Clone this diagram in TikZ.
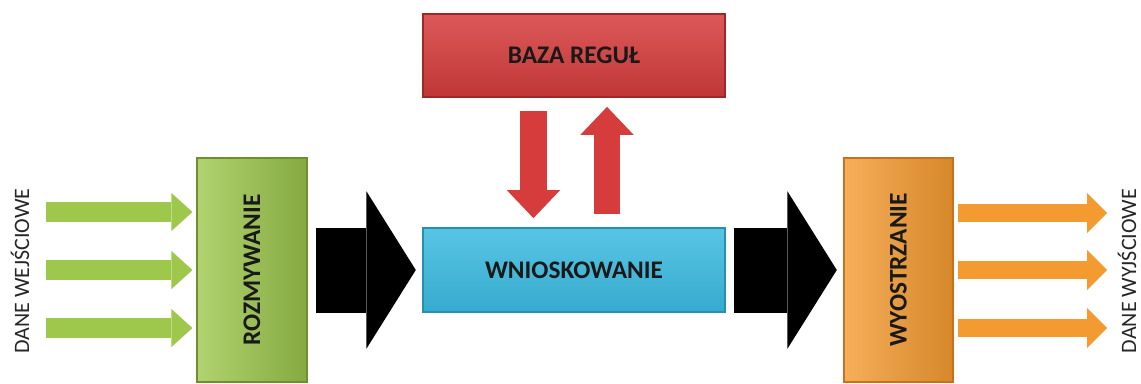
\documentclass[tikz,border=0pt]{standalone}
\usepackage{fontspec}
\setmainfont{Carlito}
\usetikzlibrary{arrows.meta}

\definecolor{rozmgreen}{HTML}{9DC84C}
\definecolor{rozmdark}{HTML}{6F8F2E}
\definecolor{bazared}{HTML}{D63C3C}
\definecolor{bazadark}{HTML}{A12727}
\definecolor{wniosblue}{HTML}{3BBAE0}
\definecolor{wniosdark}{HTML}{2590B3}
\definecolor{wyosorange}{HTML}{F39A30}
\definecolor{wyosdark}{HTML}{C8701A}

\begin{document}
\begin{tikzpicture}
        [
            x = 0.75pt, y = -0.75pt,
            box/.style = {rectangle, draw, thick, inner sep=0pt, text=black!90,
                font=\bfseries\fontsize{19}{21}\selectfont},
            boxlabel/.style = {text=black!90, font=\bfseries\fontsize{19}{21}\selectfont},
            datalabel/.style = {rotate=90, text=black!85, font=\fontsize{16.5}{18}\selectfont},
            inarrow/.style = {draw=rozmgreen, line width=15pt, shorten >=3pt,
                -{Triangle[length=15.75pt, width=28.5pt, line width=0pt]}},
            outarrow/.style = {draw=wyosorange, line width=14pt, shorten <=3.5pt,
                -{Triangle[length=15pt, width=30pt, line width=0pt]}},
            bigarrow/.style = {draw=black, line width=63.75pt, shorten <=6pt, shorten >=5pt,
                -{Triangle[length=37pt, width=118pt, line width=0pt]}},
            rulearrow/.style = {draw=bazared, line width=20pt, shorten <=10pt, shorten >=7pt,
                -{Triangle[length=21pt, width=40pt, line width=0pt]}}
        ]
        \useasboundingbox (0, 0) rectangle (1141, 383);

        \node [box, draw=bazadark, top color=bazared!85!white, bottom color=bazared!90!black,
            minimum width=226.5pt, minimum height=62.25pt] at (574, 55.5) (baza) {BAZA REGUŁ};
        \node [box, draw=wniosdark, top color=wniosblue!85!white, bottom color=wniosblue!92!black,
            minimum width=226.5pt, minimum height=63pt] at (574, 270) (wnio) {WNIOSKOWANIE};
        \node [box, draw=rozmdark, left color=rozmgreen!80!white, right color=rozmgreen!85!black,
            minimum width=82.5pt, minimum height=168pt] at (252, 270) (rozm) {};
        \node [box, draw=wyosdark, left color=wyosorange!80!white, right color=wyosorange!88!black,
            minimum width=81.75pt, minimum height=168pt] at (898.5, 270) (wyos) {};
        \node [boxlabel, rotate=90] at (rozm) (rozmtext) {ROZMYWANIE};
        \node [boxlabel, rotate=90] at (wyos) (wyostext) {WYOSTRZANIE};

        \node [datalabel] at (20, 271) (wej) {DANE WEJŚCIOWE};
        \node [datalabel] at (1127, 271) (wyj) {DANE WYJŚCIOWE};

        \coordinate (in1) at (46, 212);
        \coordinate (in2) at (46, 270);
        \coordinate (in3) at (46, 328);
        \coordinate (out1) at (1107, 213);
        \coordinate (out2) at (1107, 270);
        \coordinate (out3) at (1107, 328);

        \draw[inarrow] (in1) -- (rozm.west |- in1);
        \draw[inarrow] (in2) -- (rozm.west |- in2);
        \draw[inarrow] (in3) -- (rozm.west |- in3);

        \draw[outarrow] (wyos.east |- out1) -- (out1);
        \draw[outarrow] (wyos.east |- out2) -- (out2);
        \draw[outarrow] (wyos.east |- out3) -- (out3);

        \draw[bigarrow] (rozm.east |- wnio.west) -- (wnio.west);
        \draw[bigarrow] (wnio.east) -- (wyos.west |- wnio.east);

        \draw[rulearrow] ([xshift=-30.4pt]baza.south) -- ([xshift=-30.4pt]wnio.north);
        \draw[rulearrow] ([xshift=24.75pt]wnio.north) -- ([xshift=24.75pt]baza.south);
    \end{tikzpicture}
\end{document}
